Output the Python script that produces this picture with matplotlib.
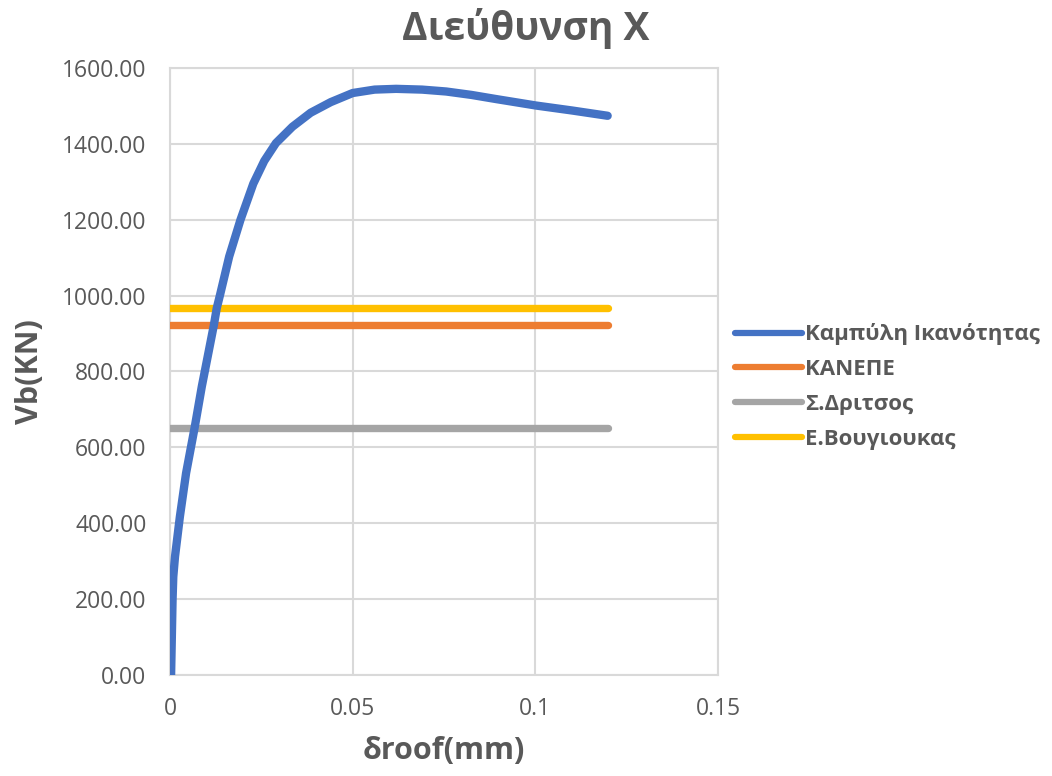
import numpy as np
import matplotlib
matplotlib.use('Agg')
import matplotlib.pyplot as plt
from matplotlib.ticker import FormatStrFormatter

plt.rcParams['font.family'] = ['Open Sans', 'DejaVu Sans']

# Capacity curve
d_roof = [0.0003, 0.0007, 0.0009, 0.00137, 0.0027, 0.0044, 0.0068, 0.0087, 0.0120,
          0.0128, 0.0137, 0.0162, 0.0193, 0.0228, 0.0258, 0.0290, 0.0335, 0.0385,
          0.0440, 0.0500, 0.0560, 0.0619, 0.0690, 0.0756, 0.0825, 0.0893, 0.1002,
          0.1100, 0.1198]
vb = [0, 198, 259, 312, 417, 532, 655, 760, 922,
      967, 1002, 1103, 1200, 1295, 1355, 1402, 1445, 1482,
      1510, 1534, 1543, 1545, 1543, 1538, 1529, 1518, 1501,
      1488, 1474]

# Reference levels
x_ref = [0, 0.12]
kanepe = 922
dritsos = 651
vougioukas = 967

text_grey = '#595959'
grid_grey = '#d9d9d9'

fig = plt.figure(figsize=(10.52, 7.76), dpi=100)
ax = fig.add_axes([0.1616, 0.1302, 0.6825 - 0.1616, 0.9124 - 0.1302])

ax.plot(d_roof, vb, color='#4472c4', lw=6, solid_capstyle='round',
        solid_joinstyle='round', label='Καμπύλη Ικανότητας', zorder=5)
ax.plot(x_ref, [kanepe, kanepe], color='#ed7d31', lw=5.3, solid_capstyle='round',
        label='ΚΑΝΕΠΕ', zorder=4)
ax.plot(x_ref, [dritsos, dritsos], color='#a5a5a5', lw=5.3, solid_capstyle='round',
        label='Σ.Δριτσος', zorder=4)
ax.plot(x_ref, [vougioukas, vougioukas], color='#ffc000', lw=5.3, solid_capstyle='round',
        label='Ε.Βουγιουκας', zorder=4)

ax.set_xlim(0, 0.15)
ax.set_ylim(0, 1600)
ax.set_xticks([0, 0.05, 0.1, 0.15])
ax.set_xticklabels(['0', '0.05', '0.1', '0.15'])
ax.set_yticks(np.arange(0, 1601, 200))
ax.yaxis.set_major_formatter(FormatStrFormatter('%.2f'))
ax.tick_params(length=0, labelsize=16.5, labelcolor=text_grey)
ax.tick_params(axis='y', pad=17)
ax.tick_params(axis='x', pad=16)
ax.grid(True, color=grid_grey, lw=1.5)
ax.set_axisbelow(True)
for s in ax.spines.values():
    s.set_color(grid_grey)
    s.set_linewidth(1.5)

ax.set_xlabel('δroof(mm)', fontsize=22, fontweight='bold', color=text_grey, labelpad=11)
ax.set_ylabel('Vb(KN)', fontsize=22, fontweight='bold', color=text_grey, labelpad=12)
fig.text(0.5, 0.963, 'Διεύθυνση Χ', ha='center', va='center', fontsize=28,
         fontweight='bold', color=text_grey)

leg = fig.legend(loc='center left', bbox_to_anchor=(0.680, 0.502), frameon=False,
                 handlelength=3.0, handletextpad=0.15, labelspacing=0.62,
                 prop={'size': 16, 'weight': 'bold'})
for t in leg.get_texts():
    t.set_color(text_grey)
for h in leg.legend_handles:
    h.set_linewidth(4.5)

plt.savefig('out.png', dpi=100)
